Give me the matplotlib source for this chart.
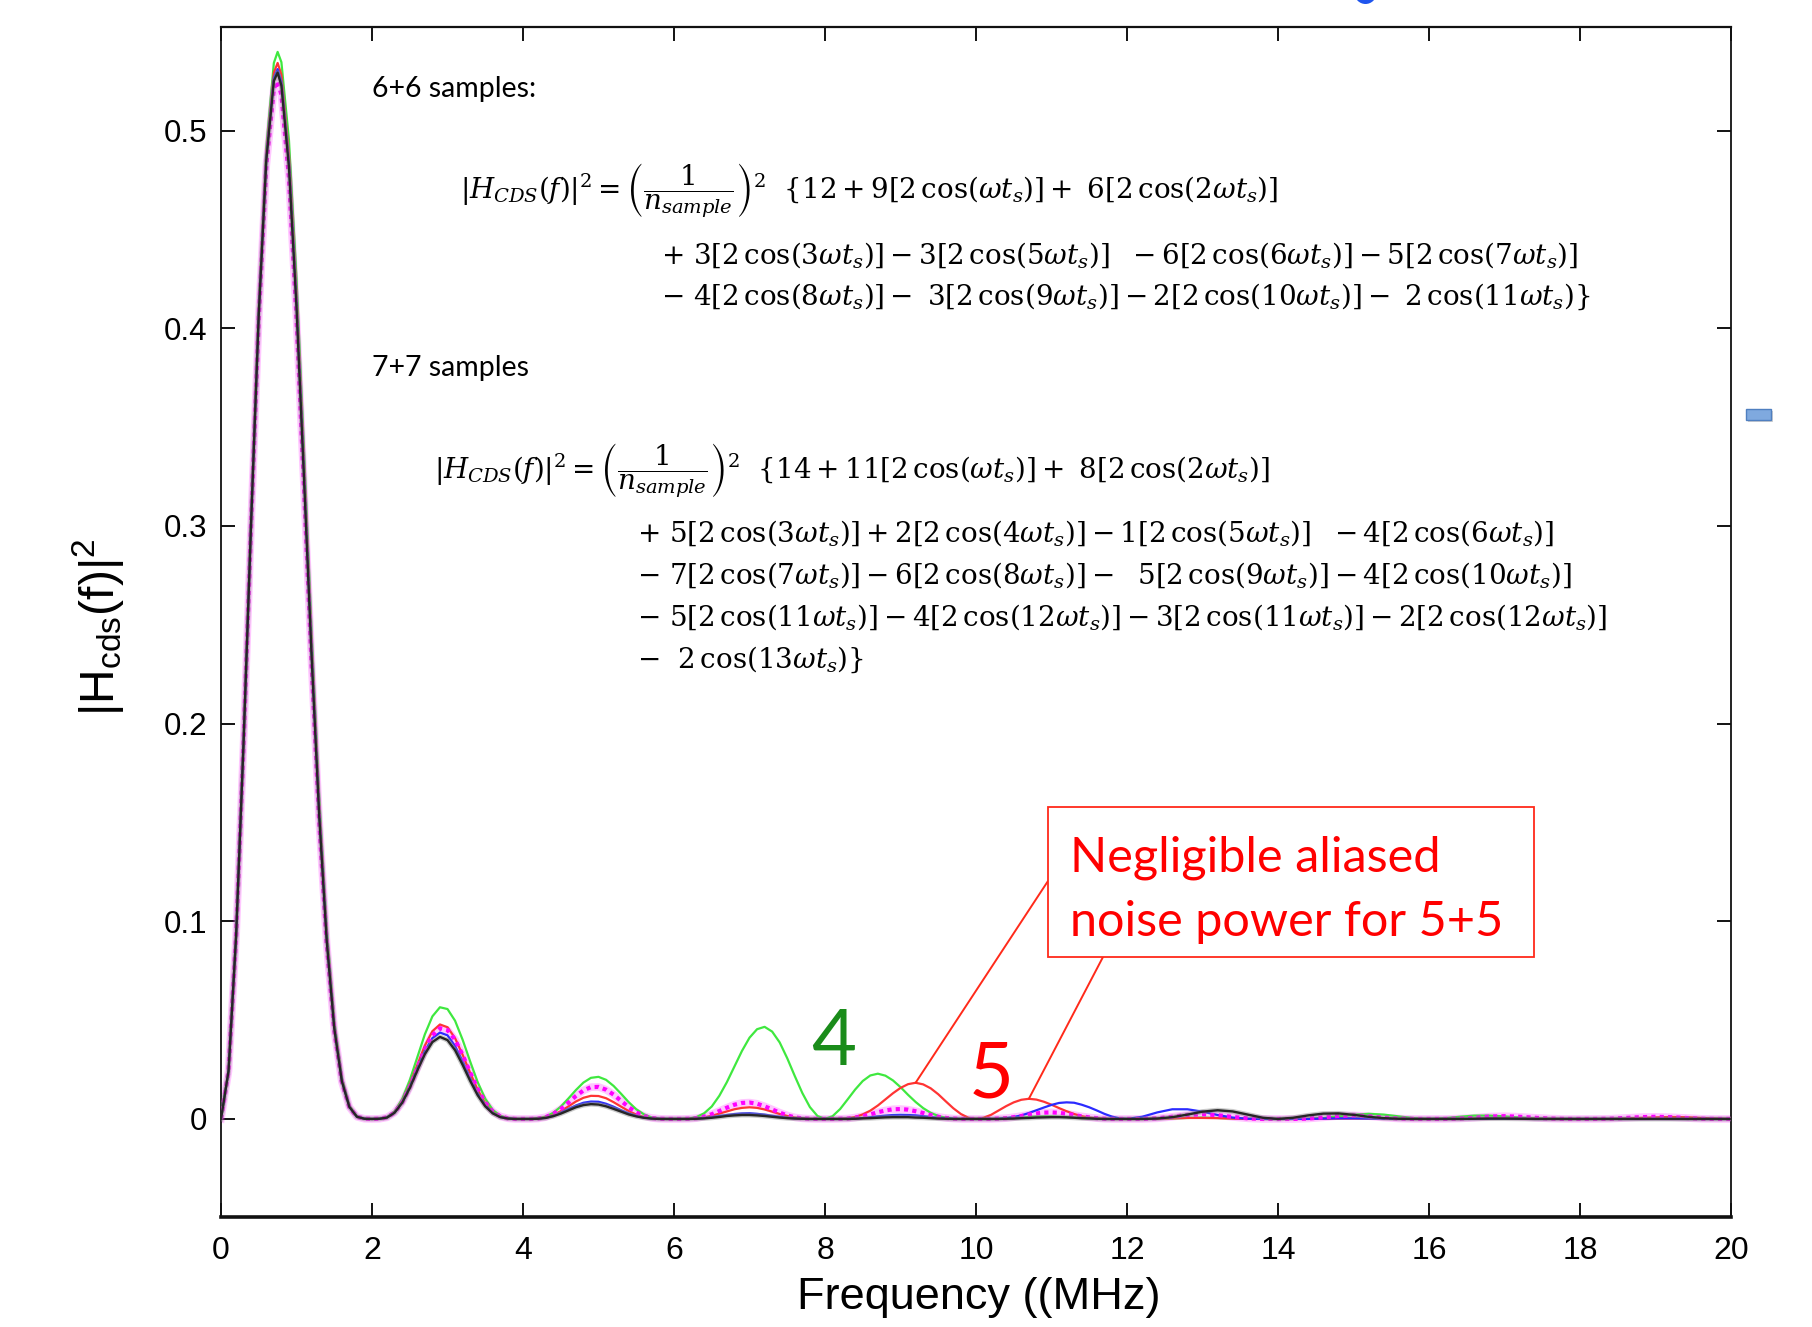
import matplotlib
matplotlib.use("Agg")
import matplotlib.pyplot as plt
from matplotlib.patches import Rectangle, Ellipse

# ---------------- data ----------------
freq_mhz = [0.0, 0.1, 0.2, 0.3, 0.4, 0.5, 0.6, 0.7, 0.75, 0.8, 0.9, 1.0, 1.1, 1.2, 1.3, 1.4, 1.5, 1.6, 1.7, 1.8, 1.9, 2.0,
            2.1, 2.2, 2.3, 2.4, 2.5, 2.6, 2.7, 2.8, 2.9, 3.0,
            3.1, 3.2, 3.3, 3.4, 3.5, 3.6, 3.7, 3.8, 3.9, 4.0,
            4.1, 4.2, 4.3, 4.4, 4.5, 4.6, 4.7, 4.8, 4.9, 5.0,
            5.1, 5.2, 5.3, 5.4, 5.5, 5.6, 5.7, 5.8, 5.9, 6.0,
            6.1, 6.2, 6.3, 6.4, 6.5, 6.6, 6.7, 6.8, 6.9, 7.0,
            7.1, 7.2, 7.3, 7.4, 7.5, 7.6, 7.7, 7.8, 7.9, 8.0,
            8.1, 8.2, 8.3, 8.4, 8.5, 8.6, 8.7, 8.8, 8.9, 9.0,
            9.1, 9.2, 9.3, 9.4, 9.5, 9.6, 9.7, 9.8, 9.9, 10.0,
            10.1, 10.2, 10.3, 10.4, 10.5, 10.6, 10.7, 10.8, 10.9, 11.0,
            11.1, 11.2, 11.3, 11.4, 11.5, 11.6, 11.7, 11.8, 11.9, 12.0,
            12.2, 12.4, 12.6, 12.8, 13.0, 13.2, 13.4, 13.6, 13.8, 14.0,
            14.2, 14.4, 14.6, 14.8, 15.0, 15.2, 15.4, 15.6, 15.8, 16.0,
            16.2, 16.4, 16.6, 16.8, 17.0, 17.2, 17.4, 17.6, 17.8, 18.0,
            18.2, 18.4, 18.6, 18.8, 19.0, 19.2, 19.4, 19.6, 19.8, 20.0]

# 4+4 samples (green)
h_4x4 = [0, 0.0243, 0.0926, 0.1922, 0.3049, 0.4105, 0.4911, 0.5342, 0.5398, 0.5346, 0.4952, 0.4251, 0.3374, 0.2461,
         0.1631, 0.0966, 0.0496, 0.0210, 0.0067, 0.0013, 0.0001, 0,
         0.0001, 0.0009, 0.0039, 0.0101, 0.0196, 0.0312, 0.0428, 0.0519, 0.0565, 0.0556,
         0.0497, 0.0401, 0.0291, 0.0186, 0.0102, 0.0046, 0.0016, 0.0003, 0, 0,
         0, 0.0003, 0.0012, 0.0031, 0.0062, 0.0103, 0.0146, 0.0184, 0.0208, 0.0213,
         0.0198, 0.0167, 0.0127, 0.0085, 0.0049, 0.0024, 0.0008, 0.0002, 0, 0,
         0, 0.0002, 0.0010, 0.0029, 0.0063, 0.0117, 0.0186, 0.0265, 0.0344, 0.0411,
         0.0454, 0.0466, 0.0442, 0.0387, 0.0307, 0.0217, 0.0131, 0.0060, 0.0015, 0,
         0.0014, 0.0050, 0.0099, 0.0149, 0.0192, 0.0220, 0.0229, 0.0219, 0.0195, 0.0161,
         0.0122, 0.0086, 0.0055, 0.0031, 0.0015, 0.0006, 0.0002, 0, 0, 0,
         0, 0, 0.0001, 0.0002, 0.0005, 0.0007, 0.0010, 0.0012, 0.0013, 0.0013,
         0.0011, 0.0009, 0.0007, 0.0004, 0.0002, 0.0001, 0, 0, 0, 0,
         0, 0.0001, 0.0003, 0.0005, 0.0007, 0.0005, 0.0003, 0.0001, 0, 0,
         0, 0.0001, 0.0005, 0.0013, 0.0021, 0.0026, 0.0022, 0.0013, 0.0004, 0,
         0.0003, 0.0011, 0.0017, 0.0017, 0.0013, 0.0007, 0.0003, 0.0001, 0, 0,
         0, 0, 0.0001, 0.0001, 0.0001, 0.0001, 0, 0, 0, 0]

# 5+5 samples (red)
h_5x5 = [0, 0.0243, 0.0925, 0.1919, 0.3040, 0.4085, 0.4878, 0.5293, 0.5342, 0.5283, 0.4878, 0.4172, 0.3299, 0.2396,
         0.1580, 0.0931, 0.0476, 0.0201, 0.0064, 0.0012, 0.0001, 0,
         0.0001, 0.0008, 0.0035, 0.0090, 0.0174, 0.0273, 0.0371, 0.0444, 0.0478, 0.0464,
         0.0409, 0.0325, 0.0233, 0.0147, 0.0079, 0.0035, 0.0012, 0.0002, 0, 0,
         0, 0.0002, 0.0008, 0.0020, 0.0039, 0.0063, 0.0088, 0.0107, 0.0117, 0.0116,
         0.0105, 0.0085, 0.0062, 0.0040, 0.0022, 0.0010, 0.0003, 0.0001, 0, 0,
         0, 0.0001, 0.0003, 0.0008, 0.0016, 0.0027, 0.0038, 0.0049, 0.0056, 0.0059,
         0.0056, 0.0048, 0.0037, 0.0025, 0.0015, 0.0007, 0.0003, 0.0001, 0, 0,
         0, 0.0001, 0.0003, 0.0010, 0.0023, 0.0042, 0.0068, 0.0099, 0.0130, 0.0157,
         0.0176, 0.0183, 0.0175, 0.0155, 0.0125, 0.0089, 0.0054, 0.0025, 0.0006, 0,
         0.0006, 0.0021, 0.0043, 0.0065, 0.0084, 0.0097, 0.0102, 0.0098, 0.0087, 0.0072,
         0.0055, 0.0039, 0.0025, 0.0014, 0.0007, 0.0003, 0.0001, 0, 0, 0,
         0, 0.0001, 0.0003, 0.0005, 0.0005, 0.0004, 0.0002, 0, 0, 0,
         0, 0, 0.0001, 0.0002, 0.0002, 0.0002, 0.0001, 0, 0, 0,
         0, 0, 0.0001, 0.0001, 0.0002, 0.0002, 0.0001, 0, 0, 0,
         0, 0, 0.0002, 0.0005, 0.0008, 0.0010, 0.0009, 0.0005, 0.0002, 0]

# 6+6 samples (blue)
h_6x6 = [0, 0.0243, 0.0925, 0.1917, 0.3035, 0.4075, 0.4860, 0.5267, 0.5311, 0.5249, 0.4838, 0.4130, 0.3259, 0.2361,
         0.1553, 0.0913, 0.0465, 0.0195, 0.0062, 0.0011, 0.0001, 0,
         0.0001, 0.0008, 0.0033, 0.0085, 0.0163, 0.0255, 0.0344, 0.0409, 0.0437, 0.0423,
         0.0369, 0.0292, 0.0207, 0.0129, 0.0070, 0.0031, 0.0010, 0.0002, 0, 0,
         0, 0.0001, 0.0006, 0.0016, 0.0031, 0.0050, 0.0068, 0.0082, 0.0088, 0.0087,
         0.0077, 0.0062, 0.0044, 0.0028, 0.0015, 0.0007, 0.0002, 0.0001, 0, 0,
         0, 0, 0.0002, 0.0005, 0.0009, 0.0015, 0.0020, 0.0025, 0.0028, 0.0029,
         0.0026, 0.0022, 0.0016, 0.0011, 0.0006, 0.0003, 0.0001, 0, 0, 0,
         0, 0, 0.0001, 0.0002, 0.0005, 0.0009, 0.0013, 0.0017, 0.0020, 0.0021,
         0.0020, 0.0018, 0.0014, 0.0010, 0.0006, 0.0003, 0.0001, 0, 0, 0,
         0, 0, 0.0001, 0.0004, 0.0010, 0.0018, 0.0030, 0.0044, 0.0058, 0.0071,
         0.0081, 0.0084, 0.0082, 0.0072, 0.0059, 0.0043, 0.0026, 0.0012, 0.0003, 0,
         0.0011, 0.0033, 0.0049, 0.0049, 0.0037, 0.0020, 0.0007, 0.0001, 0, 0,
         0, 0, 0.0002, 0.0003, 0.0003, 0.0002, 0.0001, 0, 0, 0,
         0, 0, 0, 0.0001, 0.0001, 0.0001, 0, 0, 0, 0,
         0, 0, 0, 0, 0, 0, 0, 0, 0, 0]

# 7+7 samples (black)
h_7x7 = [0, 0.0243, 0.0925, 0.1916, 0.3031, 0.4069, 0.4850, 0.5251, 0.5293, 0.5228, 0.4815, 0.4106, 0.3235, 0.2341,
         0.1538, 0.0902, 0.0459, 0.0192, 0.0061, 0.0011, 0.0001, 0,
         0.0001, 0.0007, 0.0032, 0.0082, 0.0156, 0.0245, 0.0328, 0.0389, 0.0415, 0.0399,
         0.0348, 0.0274, 0.0193, 0.0120, 0.0064, 0.0028, 0.0009, 0.0002, 0, 0,
         0, 0.0001, 0.0005, 0.0014, 0.0027, 0.0043, 0.0059, 0.0070, 0.0075, 0.0073,
         0.0064, 0.0051, 0.0037, 0.0023, 0.0013, 0.0006, 0.0002, 0, 0, 0,
         0, 0, 0.0001, 0.0003, 0.0006, 0.0010, 0.0015, 0.0018, 0.0020, 0.0020,
         0.0018, 0.0015, 0.0011, 0.0007, 0.0004, 0.0002, 0.0001, 0, 0, 0,
         0, 0, 0, 0.0001, 0.0003, 0.0004, 0.0006, 0.0008, 0.0009, 0.0009,
         0.0009, 0.0007, 0.0006, 0.0004, 0.0002, 0.0001, 0, 0, 0, 0,
         0, 0, 0, 0.0001, 0.0002, 0.0004, 0.0005, 0.0007, 0.0008, 0.0009,
         0.0009, 0.0008, 0.0006, 0.0004, 0.0003, 0.0001, 0, 0, 0, 0,
         0, 0.0002, 0.0009, 0.0022, 0.0037, 0.0044, 0.0038, 0.0022, 0.0006, 0,
         0.0006, 0.0018, 0.0027, 0.0028, 0.0021, 0.0011, 0.0004, 0.0001, 0, 0,
         0, 0, 0.0001, 0.0002, 0.0002, 0.0001, 0, 0, 0, 0,
         0, 0, 0, 0, 0, 0, 0, 0, 0, 0]

# continuous sampling (magenta, dotted)
h_cont = [0, 0.0243, 0.0924, 0.1913, 0.3024, 0.4053, 0.4823, 0.5213, 0.5250, 0.5181, 0.4762, 0.4053, 0.3188, 0.2303,
          0.1511, 0.0886, 0.0450, 0.0189, 0.0060, 0.0011, 0.0001, 0,
          0.0001, 0.0008, 0.0033, 0.0084, 0.0162, 0.0257, 0.0350, 0.0423, 0.0459, 0.0450,
          0.0401, 0.0324, 0.0235, 0.0150, 0.0083, 0.0037, 0.0013, 0.0003, 0, 0,
          0, 0.0002, 0.0009, 0.0025, 0.0050, 0.0082, 0.0116, 0.0144, 0.0161, 0.0162,
          0.0148, 0.0123, 0.0091, 0.0060, 0.0033, 0.0015, 0.0005, 0.0001, 0, 0,
          0, 0.0001, 0.0004, 0.0012, 0.0024, 0.0040, 0.0057, 0.0072, 0.0081, 0.0083,
          0.0077, 0.0064, 0.0048, 0.0032, 0.0018, 0.0008, 0.0003, 0.0001, 0, 0,
          0, 0.0001, 0.0002, 0.0007, 0.0014, 0.0023, 0.0034, 0.0043, 0.0049, 0.0050,
          0.0047, 0.0039, 0.0030, 0.0020, 0.0011, 0.0005, 0.0002, 0, 0, 0,
          0, 0, 0.0002, 0.0004, 0.0009, 0.0015, 0.0022, 0.0028, 0.0032, 0.0033,
          0.0031, 0.0026, 0.0020, 0.0013, 0.0008, 0.0004, 0.0001, 0, 0, 0,
          0, 0.0003, 0.0011, 0.0020, 0.0024, 0.0019, 0.0010, 0.0003, 0, 0,
          0, 0.0002, 0.0008, 0.0015, 0.0018, 0.0014, 0.0007, 0.0002, 0, 0,
          0, 0.0002, 0.0006, 0.0012, 0.0014, 0.0011, 0.0006, 0.0002, 0, 0,
          0, 0.0001, 0.0005, 0.0009, 0.0011, 0.0009, 0.0005, 0.0001, 0, 0]

x_ticks = [0, 2, 4, 6, 8, 10, 12, 14, 16, 18, 20]
x_tick_labels = ["0", "2", "4", "6", "8", "10", "12", "14", "16", "18", "20"]
y_ticks = [0, 0.1, 0.2, 0.3, 0.4, 0.5]
y_tick_labels = ["0", "0.1", "0.2", "0.3", "0.4", "0.5"]

# ---------------- style ----------------
plt.rcParams['font.family'] = ['Liberation Sans', 'DejaVu Sans']
plt.rcParams['mathtext.fontset'] = 'custom'
plt.rcParams['mathtext.rm'] = 'Liberation Sans'
plt.rcParams['mathtext.it'] = 'Liberation Sans:italic'
plt.rcParams['mathtext.bf'] = 'Liberation Sans:bold'

W, H = 1812, 1327
fig = plt.figure(figsize=(W / 100, H / 100), dpi=100)
fig.patch.set_facecolor('white')

AX_L, AX_R, AX_T, AX_B = 221, 1731, 27, 1217
ax = fig.add_axes([AX_L / W, 1 - AX_B / H, (AX_R - AX_L) / W, (AX_B - AX_T) / H])


def px(x, y):
    return x / W, 1 - y / H


# curves
ax.plot(freq_mhz, h_cont, color='#ff00ff', lw=5.5, alpha=0.22, zorder=2)
ax.plot(freq_mhz, h_4x4, color='#3fe83f', lw=1.6, zorder=4)
ax.plot(freq_mhz, h_5x5, color='#ff3434', lw=1.6, zorder=5)
ax.plot(freq_mhz, h_6x6, color='#2b2bff', lw=1.6, zorder=6)
ax.plot(freq_mhz, h_cont, color='#ff00ff', lw=3.0, ls=(0, (1, 1)), zorder=6.5)
ax.plot(freq_mhz, h_7x7, color='#8a8a8a', lw=3.6, alpha=0.45, zorder=7)
ax.plot(freq_mhz, h_7x7, color='#262626', lw=1.7, zorder=8)

ax.set_xlim(0, 20)
ax.set_ylim(-0.0496, 0.5524)
ax.set_xticks(x_ticks)
ax.set_xticklabels(x_tick_labels)
ax.set_yticks(y_ticks)
ax.set_yticklabels(y_tick_labels)
ax.tick_params(direction='in', length=10, width=1.3, top=True, right=True, colors='black')
ax.tick_params(axis='x', labelsize=23, pad=14)
ax.tick_params(axis='y', labelsize=22.5, pad=10)
for side, lw in (('left', 1.3), ('right', 1.3), ('top', 1.6), ('bottom', 2.6)):
    ax.spines[side].set_linewidth(lw)
    ax.spines[side].set_color('#111111')

ax.set_xlabel("Frequency ((MHz)", fontsize=32.5)
ax.xaxis.set_label_coords((979 - AX_L) / (AX_R - AX_L), (AX_B - 1277) / (AX_B - AX_T))
ax.set_ylabel(r"$|\mathrm{H}_{\mathrm{cds}}(\mathrm{f})|^{2}$", fontsize=34.5)
ax.yaxis.set_label_coords((126 - AX_L) / (AX_R - AX_L), (AX_B - 627) / (AX_B - AX_T))

# ---------------- equations ----------------
EQ_FS = 20
MF = 'dejavuserif'
fig.text(*px(372, 97), "6+6 samples:", fontsize=20.5, family='Lato', ha='left', va='baseline')
eq1 = [
    (460, 198, r"$|H_{CDS}(f)|^2 = \left(\dfrac{1}{n_{sample}}\right)^2\ \ \{12 + 9[2\,\cos(\omega t_s)] +\ 6[2\,\cos(2\omega t_s)]$"),
    (661, 264, r"$+\ 3[2\,\cos(3\omega t_s)] - 3[2\,\cos(5\omega t_s)]\ \ - 6[2\,\cos(6\omega t_s)] - 5[2\,\cos(7\omega t_s)]$"),
    (661, 305, r"$-\ 4[2\,\cos(8\omega t_s)] -\ 3[2\,\cos(9\omega t_s)] - 2[2\,\cos(10\omega t_s)] -\ 2\,\cos(11\omega t_s)\}$"),
]
fig.text(*px(372, 376), "7+7 samples", fontsize=20.5, family='Lato', ha='left', va='baseline')
eq2 = [
    (434, 478, r"$|H_{CDS}(f)|^2 = \left(\dfrac{1}{n_{sample}}\right)^2\ \ \{14 + 11[2\,\cos(\omega t_s)] +\ 8[2\,\cos(2\omega t_s)]$"),
    (637, 542, r"$+\ 5[2\,\cos(3\omega t_s)] + 2[2\,\cos(4\omega t_s)] - 1[2\,\cos(5\omega t_s)]\ \ - 4[2\,\cos(6\omega t_s)]$"),
    (637, 584, r"$-\ 7[2\,\cos(7\omega t_s)] - 6[2\,\cos(8\omega t_s)] -\ \ 5[2\,\cos(9\omega t_s)] - 4[2\,\cos(10\omega t_s)]$"),
    (637, 626, r"$-\ 5[2\,\cos(11\omega t_s)] - 4[2\,\cos(12\omega t_s)] - 3[2\,\cos(11\omega t_s)] - 2[2\,\cos(12\omega t_s)]$"),
    (637, 668, r"$-\ \ 2\,\cos(13\omega t_s)\}$"),
]
for x0, y0, s in eq1 + eq2:
    fig.text(*px(x0, y0), s, fontsize=EQ_FS, math_fontfamily=MF, ha='left', va='baseline')

# ---------------- annotations ----------------
fig.text(*px(834, 1065), "4", fontsize=56, family='Lato', color='#1a8c1a', ha='center', va='baseline')
fig.text(*px(991, 1097), "5", fontsize=56, family='Lato', color='#ff0000', ha='center', va='baseline')

BOX_L, BOX_T, BOX_R, BOX_B = 1048, 807, 1534, 957
fig.add_artist(Rectangle(px(BOX_L, BOX_B), (BOX_R - BOX_L) / W, (BOX_B - BOX_T) / H,
                         transform=fig.transFigure, facecolor='white', edgecolor='#ff2a1a', lw=1.3, zorder=20))
fig.text(*px(1070, 871), "Negligible aliased", fontsize=35, family='Lato', color='#ff0000', ha='left', va='baseline',
         zorder=21)
fig.text(*px(1070, 936), "noise power for 5+5", fontsize=35, family='Lato', color='#ff0000', ha='left', va='baseline',
         zorder=21)

# callout lines to the two 5+5 aliased lobes
i_a = max((i for i in range(len(freq_mhz)) if 8.5 < freq_mhz[i] < 10), key=lambda i: h_5x5[i])
i_b = max((i for i in range(len(freq_mhz)) if 10 < freq_mhz[i] < 12), key=lambda i: h_5x5[i])
for idx, (sx, sy) in ((i_a, (BOX_L, 881)), (i_b, (1103, BOX_B))):
    ax.annotate("", xy=(freq_mhz[idx], h_5x5[idx]), xycoords='data',
                xytext=(sx, H - sy), textcoords='figure pixels',
                arrowprops=dict(arrowstyle='-', color='#ff2a1a', lw=1.4, shrinkA=0, shrinkB=0),
                annotation_clip=False, zorder=15)

# slide artefacts (small blue marks)
fig.add_artist(Ellipse(px(1365.5, -7), 22 / W, 22 / H, transform=fig.transFigure,
                       facecolor='#1f55ee', edgecolor='none', clip_on=False))
fig.add_artist(Rectangle(px(1748, 422), 25 / W, 10.5 / H, transform=fig.transFigure,
                         facecolor='#9a9a9a', alpha=0.45, edgecolor='none'))
fig.add_artist(Rectangle(px(1746, 419.5), 25 / W, 10.5 / H, transform=fig.transFigure,
                         facecolor='#7fa9df', edgecolor='#4f7fc0', lw=1.0))

fig.savefig("out.png", dpi=100, facecolor='white')
